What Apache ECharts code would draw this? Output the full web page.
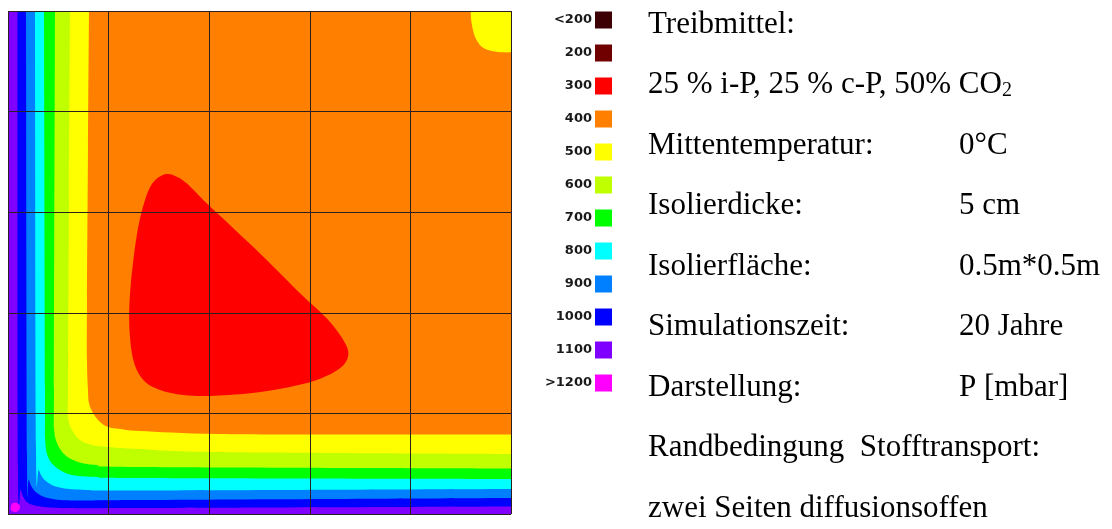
<!DOCTYPE html>
<html>
<head>
<meta charset="utf-8">
<script src="https://cdn.jsdelivr.net/npm/echarts@6/dist/echarts.min.js"></script>
<style>html,body{margin:0;padding:0;background:#fff}#c{width:1112px;height:529px}</style>
</head>
<body>
<div id="c"></div>
<script>
// ---- legend (pressure classes, mbar) ----
const legendLabels = ['<200','200','300','400','500','600','700','800','900','1000','1100','>1200'];
const legendBounds = [200,300,400,500,600,700,800,900,1000,1100,1200];
const legendColors = ['#3c0004','#700000','#ff0000','#ff8000','#ffff00','#c0ff00','#00ff00','#00ffff','#0080ff','#0000ff','#8000ff','#ff00ff'];

// ---- plate extent (cm) ----
const xExtent = [0, 50];
const yExtent = [0, 50];
const gridStep = 10;

// ---- isobar boundaries (x cm, y cm); region toward the open left/bottom sides ----
const isobar500 = [[8.05,50],[7.95,36.18],[7.85,21.27],[7.85,15.31],[7.95,12.33],[8.05,11.03],[8.45,10.04],[9.15,9.15],[9.94,8.65],[11.13,8.45],[13.12,8.25],[20.78,7.95],[34.0,7.9],[50,7.9]];
const isobar600 = [[6.16,50],[6.06,31.21],[5.96,12.33],[5.96,9.64],[6.36,8.35],[7.16,7.36],[8.35,6.86],[9.94,6.66],[13.12,6.46],[20.78,6.16],[50,5.96]];
const isobar700 = [[4.67,50],[4.57,12.33],[4.57,8.65],[4.87,7.06],[5.67,5.86],[6.96,5.17],[8.85,4.87],[13.12,4.67],[50,4.52]];
const isobar800 = [[3.58,50],[3.68,12.33],[3.68,7.65],[3.98,5.67],[4.87,4.57],[6.36,3.88],[8.85,3.68],[13.12,3.58],[50,3.48]];
const isobar900 = [[2.68,50],[2.78,6.66],[3.08,4.37],[3.88,3.18],[5.37,2.58],[7.85,2.39],[13.12,2.34],[50,2.49]];
const isobar1000 = [[1.79,50],[1.89,5.67],[2.09,3.38],[2.88,2.09],[4.47,1.49],[7.16,1.34],[13.12,1.39],[50,1.59]];
const isobar1100 = [[0.94,50],[0.99,4.67],[1.29,2.39],[1.89,1.19],[3.18,0.75],[5.86,0.60],[13.12,0.60],[50,0.75]];
// closed islands
const island1200 = [[0.30,0.80],[0.50,1.09],[0.89,1.09],[1.19,0.80],[1.09,0.40],[0.70,0.20],[0.30,0.40]];
const island300 = [[15.93,33.80],[16.77,33.53],[17.76,32.87],[19.75,30.88],[22.40,28.40],[25.72,25.25],[29.03,21.94],[31.68,19.45],[33.33,17.30],[33.83,15.81],[33.00,14.48],[30.69,13.32],[27.37,12.49],[24.06,12.00],[20.08,11.73],[17.43,11.83],[15.11,12.33],[13.45,13.32],[12.46,15.31],[12.06,18.62],[12.13,21.94],[12.46,25.25],[12.95,28.56],[13.62,31.21],[14.30,32.80],[15.15,33.58]];
// top-right corner region (500)
const corner500 = [[45.99,50],[46.09,48.78],[46.42,47.45],[47.09,46.45],[48.08,46.02],[49.24,45.89],[50,45.89]];

// ---- regions in drawing order ----
const regionLevels = [400, 500, 600, 700, 800, 900, 1000, 1100, 1200, 300, 500];
const regionShapes = [null, isobar500, isobar600, isobar700, isobar800, isobar900, isobar1000, isobar1100, island1200, island300, corner500];
const regionKinds = ['plate','edgeL','edgeL','edgeL','edgeL','edgeL','edgeL','edgeL','closed','closed','cornerTR'];

// ---- info text ----
const infoRows = [
  ['Treibmittel:', ''],
  ['25 % i-P, 25 % c-P, 50% CO{sub|2}', ''],
  ['Mittentemperatur:', '0°C'],
  ['Isolierdicke:', '5 cm'],
  ['Isolierfläche:', '0.5m*0.5m'],
  ['Simulationszeit:', '20 Jahre'],
  ['Darstellung:', 'P [mbar]'],
  ['Randbedingung  Stofftransport:', ''],
  ['zwei Seiten diffusionsoffen', '']
];

const pieces = legendLabels.map((lab, i) => {
  const p = { label: lab, color: legendColors[i] };
  if (i === 0) p.lt = legendBounds[0];
  else if (i === legendLabels.length - 1) p.gte = legendBounds[legendBounds.length - 1];
  else { p.gte = legendBounds[i - 1]; p.lt = legendBounds[i]; }
  return p;
});

function f(n){ return n.toFixed(2); }
function catmull(pts, closed) {
  const n = pts.length;
  let d = '';
  const get = (k) => closed ? pts[(k + n) % n] : pts[Math.max(0, Math.min(n - 1, k))];
  const segs = closed ? n : n - 1;
  for (let i = 0; i < segs; i++) {
    const p0 = get(i - 1), p1 = get(i), p2 = get(i + 1), p3 = get(i + 2);
    const c1 = [p1[0] + (p2[0] - p0[0]) / 6, p1[1] + (p2[1] - p0[1]) / 6];
    const c2 = [p2[0] - (p3[0] - p1[0]) / 6, p2[1] - (p3[1] - p1[1]) / 6];
    d += ' C' + f(c1[0]) + ' ' + f(c1[1]) + ' ' + f(c2[0]) + ' ' + f(c2[1]) + ' ' + f(p2[0]) + ' ' + f(p2[1]);
  }
  return d;
}

const chart = echarts.init(document.getElementById('c'), null, { renderer: 'canvas' });

const serif = '"Liberation Serif", "Times New Roman", serif';
const graphics = [];
infoRows.forEach((row, i) => {
  const yBase = 35 + i * 60.5;
  graphics.push({
    type: 'text', x: 648, y: yBase - 10.5, silent: true,
    style: {
      text: row[0], fill: '#000', fontSize: 31, fontFamily: serif,
      verticalAlign: 'middle', align: 'left',
      rich: { sub: { fontSize: 20, fontFamily: serif, verticalAlign: 'bottom', fill: '#000', padding: [0, 0, 0, 0] } }
    }
  });
  if (row[1]) {
    graphics.push({
      type: 'text', x: 959, y: yBase - 10.5, silent: true,
      style: { text: row[1], fill: '#000', fontSize: 31, fontFamily: serif, verticalAlign: 'middle', align: 'left' }
    });
  }
});

const option = {
  animation: false,
  backgroundColor: '#fff',
  grid: { left: 8, top: 11, width: 503, height: 503, show: false },
  xAxis: {
    type: 'value', min: xExtent[0], max: xExtent[1], interval: gridStep, z: 5,
    axisLine: { show: false }, axisTick: { show: false }, axisLabel: { show: false },
    splitLine: { show: true, showMinLine: true, showMaxLine: true, lineStyle: { color: '#2b2020', width: 1 } }
  },
  yAxis: {
    type: 'value', min: yExtent[0], max: yExtent[1], interval: gridStep, z: 5,
    axisLine: { show: false }, axisTick: { show: false }, axisLabel: { show: false },
    splitLine: { show: true, showMinLine: true, showMaxLine: true, lineStyle: { color: '#2b2020', width: 1 } }
  },
  visualMap: {
    type: 'piecewise', seriesIndex: 0, dimension: 0, pieces: pieces,
    orient: 'vertical', inverse: true, align: 'right',
    right: 500, top: 11.5, padding: 0,
    itemWidth: 17, itemHeight: 17, itemGap: 16, textGap: 3,
    itemSymbol: 'rect', selectedMode: false, hoverLink: false,
    textStyle: { color: '#1a1a1a', fontSize: 13, fontWeight: 'bold', fontFamily: 'DejaVu Sans' }
  },
  graphic: graphics,
  series: [{
    type: 'custom',
    coordinateSystem: 'cartesian2d',
    clip: true,
    silent: true,
    data: regionLevels.map((v, i) => ({ value: [v, i] })),
    dimensions: ['level', 'idx'],
    encode: { x: -1, y: -1 },
    renderItem: function (params, api) {
      const i = params.dataIndex;
      const kind = regionKinds[i];
      const c = (p) => api.coord(p);
      const bl = c([xExtent[0], yExtent[0]]), br = c([xExtent[1], yExtent[0]]);
      const tl = c([xExtent[0], yExtent[1]]), tr = c([xExtent[1], yExtent[1]]);
      let d = '';
      if (kind === 'plate') {
        d = 'M' + tl.join(' ') + ' L' + tr.join(' ') + ' L' + br.join(' ') + ' L' + bl.join(' ') + ' Z';
      } else {
        const pts = regionShapes[i].map(c);
        if (kind === 'closed') {
          d = 'M' + f(pts[0][0]) + ' ' + f(pts[0][1]) + catmull(pts, true) + ' Z';
        } else if (kind === 'edgeL') {
          d = 'M' + f(pts[0][0]) + ' ' + f(pts[0][1]) + catmull(pts, false)
            + ' L' + br.join(' ') + ' L' + bl.join(' ') + ' L' + tl.join(' ') + ' Z';
        } else {
          d = 'M' + f(pts[0][0]) + ' ' + f(pts[0][1]) + catmull(pts, false)
            + ' L' + tr.join(' ') + ' Z';
        }
      }
      return { type: 'path', shape: { pathData: d }, style: { fill: api.visual('color'), stroke: null } };
    }
  }]
};
chart.setOption(option);
</script>
</body>
</html>
